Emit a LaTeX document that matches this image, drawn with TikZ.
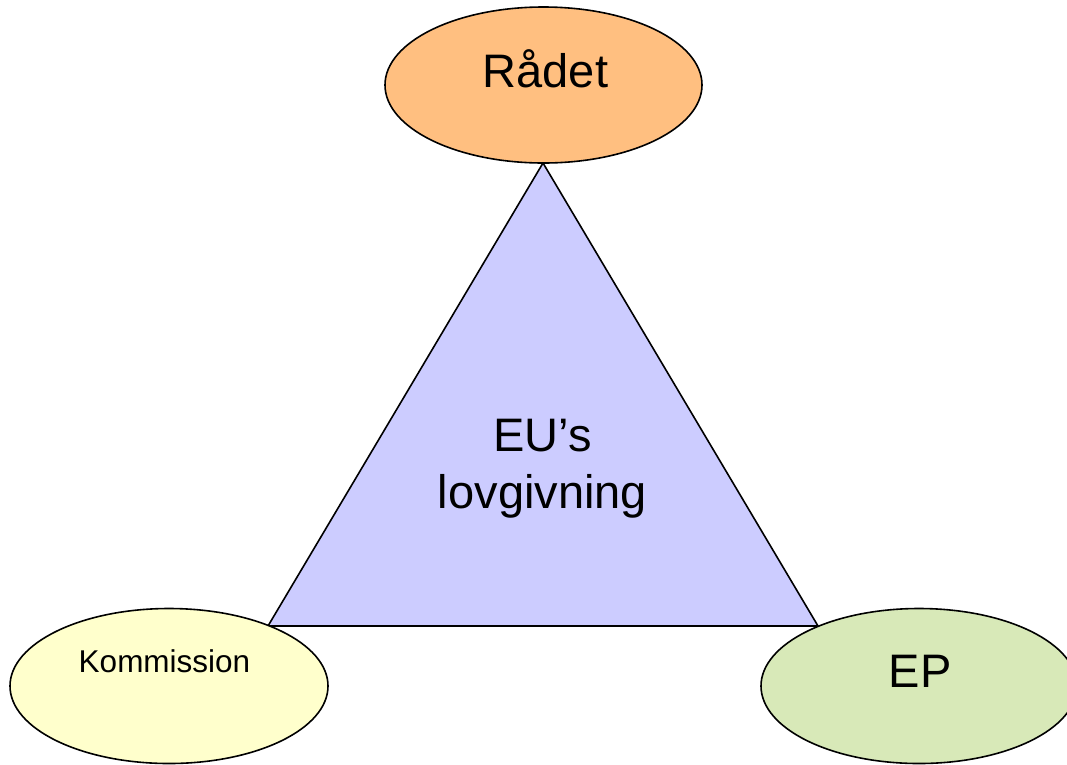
\documentclass[tikz,border=0pt]{standalone}
\usepackage{fontspec}
\setmainfont{Liberation Sans}
\usetikzlibrary{shapes.geometric}
\definecolor{radc}{HTML}{FFBF80}
\definecolor{komc}{HTML}{FFFFCC}
\definecolor{epc}{HTML}{D8E9B8}
\definecolor{trc}{HTML}{CCCCFF}
\begin{document}
\begin{tikzpicture}[x=1pt,y=-1pt,
  body/.style={ellipse,draw=black,line width=1.6pt,inner sep=0pt},
  lbl/.style={anchor=base,inner sep=0pt,font=\fontsize{47}{57}\selectfont}]
\useasboundingbox (0,0) rectangle (1067,764);
\coordinate (top) at (543,163);
\coordinate (bl) at (268,626);
\coordinate (br) at (818,626);
\draw[fill=trc,line width=1.6pt,line join=miter] (top) -- (bl) -- (br) -- cycle;
\node[body,fill=radc,minimum width=317pt,minimum height=156pt] (rad) at (543.5,85) {};
\node[body,fill=komc,minimum width=318pt,minimum height=155pt] (kom) at (169,686) {};
\node[body,fill=epc,minimum width=316pt,minimum height=155pt] (ep) at (919,686) {};
\node[lbl] (radt) at (545.5,87) {Rådet};
\node[lbl] (ept) at (920,687) {EP};
\node[lbl,font=\fontsize{31.5}{37}\selectfont] (komt) at (164.5,672) {Kommission};
\node[lbl] (eut) at (542.5,451) {EU’s};
\node[lbl] (lovt) at (542.5,508) {lovgivning};
\end{tikzpicture}
\end{document}
